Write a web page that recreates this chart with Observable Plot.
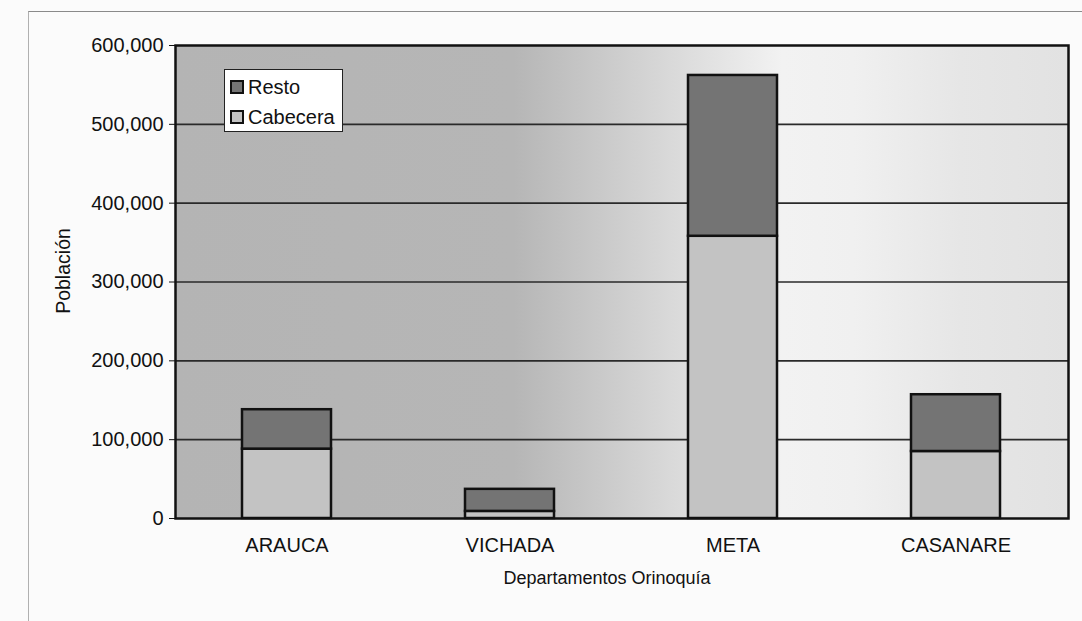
<!DOCTYPE html>
<html>
<head>
<meta charset="utf-8">
<script src="https://cdn.jsdelivr.net/npm/d3@7"></script>
<script src="https://cdn.jsdelivr.net/npm/@observablehq/plot@0.6"></script>
<style>
  body { margin: 0; background: #fff; font-family: "Liberation Sans", Arial, sans-serif; }
  #wrap { position: relative; width: 1082px; height: 621px; overflow: hidden; background: #fbfbfb; }
  #pageframe { position: absolute; left: 28px; top: 11px; width: 1200px; height: 800px;
    border-top: 1px solid #8a8a8a; border-left: 1px solid #b0b0b0; }
  #chart { position: absolute; left: 0; top: 0; }
  #legend { position: absolute; left: 224px; top: 69px; width: 117px; height: 61px;
    background: #fff; border: 1.5px solid #222; font-size: 20px; color: #111; }
  .item { position: absolute; left: 5px; display: flex; align-items: center; height: 18px; }
  .sw { width: 10px; height: 10px; border: 2px solid #111; margin-right: 4px; }
</style>
</head>
<body>
<div id="wrap">
  <div id="pageframe"></div>
  <div id="chart"></div>
  <div id="legend"></div>
</div>
<script>
// ---- data ----
const categories = ["ARAUCA", "VICHADA", "META", "CASANARE"];
const cabecera = [88000, 9000, 358000, 85000];
const resto = [50000, 28000, 204000, 72000];
const series = ["Cabecera", "Resto"];
const seriesColors = ["#c3c3c3", "#747474"];
const legendOrder = ["Resto", "Cabecera"];
const yTicks = [0, 100000, 200000, 300000, 400000, 500000, 600000];
const xTitle = "Departamentos Orinoquía";
const yTitle = "Población";

const data = [
  ...categories.map((c, i) => ({dep: c, serie: "Cabecera", value: cabecera[i]})),
  ...categories.map((c, i) => ({dep: c, serie: "Resto", value: resto[i]}))
];

// gradient background of the plotting area (scan-like grey fading to white)
function background(index, scales, values, dim) {
  const ns = "http://www.w3.org/2000/svg";
  const W = dim.width, H = dim.height;
  const x0 = dim.marginLeft, y0 = dim.marginTop;
  const w = W - dim.marginLeft - dim.marginRight, h = H - dim.marginTop - dim.marginBottom;
  const g = document.createElementNS(ns, "g");
  g.innerHTML = `
    <defs>
      <linearGradient id="bgGrad" x1="0" x2="1" y1="0" y2="0">
        <stop offset="0" stop-color="#b4b4b4"/>
        <stop offset="0.38" stop-color="#b6b6b6"/>
        <stop offset="0.47" stop-color="#c8c8c8"/>
        <stop offset="0.56" stop-color="#dadada"/>
        <stop offset="0.68" stop-color="#f2f2f2"/>
        <stop offset="0.76" stop-color="#f0f0f0"/>
        <stop offset="0.88" stop-color="#e6e6e6"/>
        <stop offset="1" stop-color="#e2e2e2"/>
      </linearGradient>
    </defs>
    <rect x="${x0}" y="${y0}" width="${w}" height="${h}" fill="url(#bgGrad)"/>`;
  return g;
}

const chart = Plot.plot({
  width: 1082,
  height: 621,
  marginLeft: 175,
  marginRight: 14,
  marginTop: 45,
  marginBottom: 103,
  style: {fontFamily: "Liberation Sans, Arial, sans-serif", fontSize: "20px", color: "#111", background: "transparent"},
  x: {domain: categories, paddingInner: 0.6, paddingOuter: 0.3, label: null, tickSize: 0, tickPadding: 19},
  y: {domain: [0, 600000], ticks: yTicks, tickFormat: d3.format(","), tickSize: 6, tickPadding: 6, label: null},
  color: {domain: series, range: seriesColors},
  marks: [
    background,
    Plot.ruleY(yTicks.slice(1, -1), {stroke: "#2a2a2a", strokeWidth: 1.6}),
    Plot.barY(data, {x: "dep", y: "value", fill: "serie", stroke: "#111", strokeWidth: 2.5}),
    Plot.frame({stroke: "#111", strokeWidth: 2.5}),
    Plot.text([yTitle], {text: d => d, frameAnchor: "left", textAnchor: "middle", rotate: -90, dx: -112, dy: -11, fontSize: 19.5, fill: "#111"}),
    Plot.text([xTitle], {text: d => d, frameAnchor: "bottom", textAnchor: "middle", dx: -15, dy: 65, fontSize: 18, fill: "#111"})
  ]
});
document.getElementById("chart").appendChild(chart);

// legend
const legend = document.getElementById("legend");
legendOrder.forEach((s, i) => {
  const item = document.createElement("div");
  item.className = "item";
  item.style.top = (8 + i * 30) + "px";
  const sw = document.createElement("div");
  sw.className = "sw";
  sw.style.background = seriesColors[series.indexOf(s)];
  const t = document.createElement("span");
  t.textContent = s;
  item.appendChild(sw);
  item.appendChild(t);
  legend.appendChild(item);
});
</script>
</body>
</html>
